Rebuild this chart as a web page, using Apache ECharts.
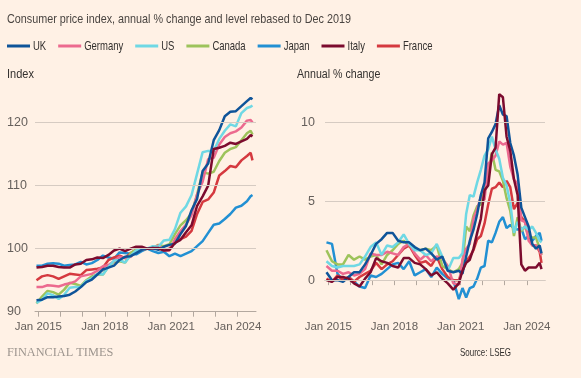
<!DOCTYPE html>
<html><head><meta charset="utf-8">
<script src="https://cdn.jsdelivr.net/npm/echarts@6/dist/echarts.min.js"></script>
<style>html,body{margin:0;padding:0;background:#fff1e5}#c{width:581px;height:378px}</style>
</head><body><div id="c"></div><script>
// ---------- DATA ----------
const countries = ['UK','Germany','US','Canada','Japan','Italy','France'];
const drawOrder = ['Japan','France','Canada','Germany','US','UK','Italy'];
const colors = {UK:'#0f5499',Germany:'#ec6a8f',US:'#6fd8e4',Canada:'#9dc35b',Japan:'#2290d3',Italy:'#7c0b2e',France:'#d5393f'};

// Left panel: CPI level, Dec 2019 = 100
const indexDates = ['2014-12',
 '2015-03','2015-06','2015-09','2015-12','2016-03','2016-06','2016-09','2016-12',
 '2017-03','2017-06','2017-09','2017-12','2018-03','2018-06','2018-09','2018-12',
 '2019-03','2019-06','2019-09','2019-12','2020-03','2020-06','2020-09','2020-12',
 '2021-03','2021-06','2021-09','2021-12','2022-03','2022-06','2022-09','2022-12',
 '2023-03','2023-06','2023-09','2023-12','2024-03','2024-06','2024-08','2024-09'];
const indexUK = [91.8, 91.9,92.3,92.3,92.4, 92.5,92.7,93.2,93.9, 94.7,95.1,95.9,96.7, 97.0,97.3,98.2,98.7, 98.8,99.3,99.8,100, 100.1,99.8,100.3,100.6, 100.8,102.3,103.6,106.1, 107.9,112.3,113.5,117.2, 118.8,121.0,121.7,121.8, 122.6,123.4, 123.9,123.7];
const indexGermany = [93.9, 93.9,94.2,94.1,94.0, 94.3,94.5,94.8,95.6, 95.8,96.0,96.5,97.2, 97.4,98.0,98.7,98.5, 98.7,99.6,99.9,100, 100.1,100.5,99.7,99.7, 101.5,102.8,103.8,105.3, 108.6,110.6,114.2,114.4, 116.5,117.7,118.3,118.6, 119.2,120.3, 120.4,120.0];
const indexUS = [91.4, 91.9,92.9,92.6,92.0, 92.7,93.8,93.9,93.9, 94.9,95.3,96.0,95.9, 97.1,98.1,98.2,97.8, 98.9,99.7,99.9,100, 100.4,100.3,101.3,101.4, 103.1,105.7,106.7,108.5, 111.9,115.3,115.5,115.5, 117.4,118.7,119.7,119.4, 121.5,122.3, 122.5,122.7];
const indexCanada = [91.3, 92.4,93.3,93.1,92.7, 93.5,94.6,94.4,94.1, 95.0,95.6,95.9,95.9, 97.2,97.9,98.0,97.8, 99.3,99.9,99.9,100, 100.1,100.6,100.4,100.7, 102.3,103.7,104.5,105.6, 108.6,112.1,111.9,112.2, 113.9,115.2,115.8,116.1, 117.2,118.3, 118.7,118.1];
const indexJapan = [97.3, 97.3,97.6,97.7,97.6, 97.3,97.4,97.5,97.9, 97.5,97.7,98.2,98.9, 98.6,98.4,99.4,99.3, 99.2,99.1,99.6,100, 99.6,99.3,99.5,98.8, 99.2,98.8,99.2,99.6, 100.4,101.2,102.5,103.8, 104.0,104.7,105.5,106.5, 106.8,107.5, 108.3,108.5];
const indexItaly = [97.0, 97.1,97.3,97.3,97.1, 97.0,97.0,97.5,97.6, 98.2,98.3,98.6,98.5, 99.0,99.7,100.0,99.6, 100.0,100.3,100.3,100, 100.1,100.1,99.7,99.8, 100.9,101.4,102.6,103.7, 106.8,108.3,110.0,115.8, 116.0,116.3,116.8,116.6, 117.0,117.4, 118.0,117.8];
const indexFrance = [95.0, 95.6,95.8,95.6,95.2, 95.6,96.0,95.9,95.8, 96.6,96.7,96.8,97.0, 98.2,98.6,98.9,98.5, 99.3,99.8,99.8,100, 100.0,100.0,99.8,100.0, 101.0,101.5,101.9,102.8, 105.5,107.4,107.8,108.9, 111.6,112.3,113.1,112.9, 114.0,114.7, 115.2,114.0];

// Right panel: annual % change
const changeDates = ['2014-12',
 '2015-03','2015-06','2015-09','2015-12','2016-03','2016-06','2016-09','2016-12',
 '2017-03','2017-06','2017-09','2017-12','2018-03','2018-06','2018-09','2018-12',
 '2019-03','2019-06','2019-09','2019-12','2020-03','2020-06','2020-09','2020-12',
 '2021-02','2021-04','2021-06','2021-08','2021-10','2021-12',
 '2022-02','2022-04','2022-06','2022-08','2022-10','2022-12',
 '2023-02','2023-04','2023-06','2023-08','2023-10','2023-12',
 '2024-02','2024-04','2024-06','2024-08','2024-09'];
const changeUK = [0.5, 0.0,0.0,-0.1,0.2, 0.5,0.5,1.0,1.6, 2.3,2.6,3.0,3.0, 2.5,2.4,2.4,2.1, 1.9,2.0,1.7,1.3, 1.5,0.6,0.5,0.6, 0.4,1.5,2.5,3.2,4.2,5.4, 6.2,9.0,9.4,9.9,11.1,10.5, 10.4,8.7,7.9,6.7,4.6,4.0, 3.4,2.3,2.0,2.2,1.7];
const changeGermany = [0.9, 0.6,0.6,0.4,0.5, 0.3,0.4,0.7,1.7, 1.6,1.6,1.8,1.7, 1.6,2.1,2.3,1.7, 1.3,1.6,1.2,1.5, 1.4,0.9,-0.2,-0.3, 1.3,2.0,2.3,3.9,4.5,5.3, 5.1,7.4,7.6,7.9,8.8,8.6, 8.7,7.2,6.4,6.1,3.8,3.7, 2.5,2.2,2.2,1.9,1.6];
const changeUS = [1.2, 0.9,0.8,0.9,0.9, 0.9,1.0,1.5,2.1, 2.4,1.6,2.2,2.1, 2.4,2.9,2.3,1.9, 1.9,1.6,1.7,2.3, 1.5,0.6,1.4,1.4, 1.7,4.2,5.4,5.3,6.2,7.0, 7.9,8.3,9.1,8.3,7.7,6.5, 6.0,4.9,3.0,3.7,3.2,3.4, 3.2,3.4,3.0,2.5,2.4];
const changeCanada = [1.9, 1.2,1.0,1.0,1.6, 1.3,1.5,1.3,1.5, 1.6,1.0,1.6,1.9, 2.3,2.5,2.2,2.0, 1.9,2.0,1.9,2.2, 0.9,0.7,0.5,0.7, 1.1,3.4,3.1,4.1,4.7,4.8, 5.7,6.8,8.1,7.0,6.9,6.3, 5.2,4.4,2.8,4.0,3.1,3.4, 2.8,2.7,2.7,2.0,1.6];
const changeJapan = [2.4, 2.3,0.4,0.0,0.2, -0.1,-0.4,-0.5,0.3, 0.2,0.4,0.7,1.0, 1.1,0.7,1.2,0.3, 0.5,0.7,0.2,0.8, 0.4,0.1,0.0,-1.2, -0.5,-1.1,-0.5,-0.4,0.1,0.8, 0.9,2.5,2.4,3.0,3.7,4.0, 3.3,3.5,3.3,3.2,3.3,2.6, 2.8,2.5,2.8,3.0,2.5];
const changeItaly = [0.0, -0.1,0.2,0.2,0.1, -0.2,-0.4,0.1,0.5, 1.4,1.2,1.1,0.9, 0.8,1.4,1.4,1.1, 1.0,0.7,0.3,0.5, 0.1,-0.2,-0.6,-0.2, 0.6,1.1,1.3,2.0,3.0,3.9, 5.7,6.0,8.0,8.4,11.8,11.6, 9.1,8.2,6.4,5.4,1.0,0.6, 0.8,0.8,0.8,1.1,0.7];
const changeFrance = [0.1, -0.1,0.3,0.0,0.2, -0.1,0.2,0.4,0.6, 1.1,0.7,1.0,1.2, 1.6,2.0,2.2,1.6, 1.1,1.2,0.9,1.5, 0.7,0.2,0.0,0.0, 0.6,1.2,1.5,1.9,2.6,2.8, 3.6,4.8,5.8,5.9,6.2,5.9, 6.3,5.9,4.5,4.9,4.0,3.7, 3.0,2.2,2.2,1.8,1.1];

const tickYears = [2015,2016,2017,2018,2019,2020,2021,2022,2023,2024];
const labelYears = [2015,2018,2021,2024];
const indexTicks = [90,100,110,120];
const changeTicks = [0,5,10];

// ---------- BUILD ----------
const indexData = {UK:indexUK,Germany:indexGermany,US:indexUS,Canada:indexCanada,Japan:indexJapan,Italy:indexItaly,France:indexFrance};
const changeData = {UK:changeUK,Germany:changeGermany,US:changeUS,Canada:changeCanada,Japan:changeJapan,Italy:changeItaly,France:changeFrance};
function toMonth(d){const p=d.split('-');return (+p[0]-2015)*12+(+p[1]-1);}
function pairs(dates,vals){return dates.map((d,i)=>[toMonth(d),vals[i]]);}

const sansName = "'Liberation Sans', Arial, sans-serif";
const gridColor = '#d6cbc2';
const axisColor = '#b3a89f';
const labelColor = '#66605c';
const textColor = '#33302e';

const tickMonths = tickYears.map(y=>(y-2015)*12);
const labelMonths = labelYears.map(y=>(y-2015)*12);

const measureCtx = document.createElement('canvas').getContext('2d');
function textW(t, size){measureCtx.font = size+'px '+sansName; return measureCtx.measureText(t).width;}

// condensed text helper (the FT face is narrow)
function ctext(t,x,y,size,sx,color){
  return {type:'text',x:x,y:y,scaleX:sx,silent:true,
    style:{text:t,x:0,y:0,font:size+'px '+sansName,fill:color,verticalAlign:'middle',align:'left'}};
}

function xAxis(gi){
  return {type:'value',gridIndex:gi,min:-1.8,max:117.9,
    axisLine:{show:true,lineStyle:{color:axisColor,width:1}},
    axisTick:{show:true,length:5,customValues:tickMonths,lineStyle:{color:axisColor}},
    axisLabel:{show:true,customValues:labelMonths,margin:9,color:labelColor,fontFamily:sansName,fontSize:11.5,
      formatter:v=>'Jan '+(2015+Math.round(v/12))},
    splitLine:{show:false}};
}
function gridSeries(ai,ticks){
  return {type:'line',xAxisIndex:ai,yAxisIndex:ai,data:[],silent:true,z:1,
    markLine:{silent:true,symbol:'none',label:{show:false},animation:false,
      lineStyle:{type:'solid',color:gridColor,width:1},
      data:ticks.map(v=>({yAxis:v}))}};
}

const series=[gridSeries(0,indexTicks.slice(1)),gridSeries(1,changeTicks)];
drawOrder.forEach(c=>{
  series.push({name:c,type:'line',xAxisIndex:0,yAxisIndex:0,data:pairs(indexDates,indexData[c]),
    showSymbol:false,symbol:'none',z:3,color:colors[c],lineStyle:{width:2.5,color:colors[c]},emphasis:{disabled:true}});
  series.push({name:c,type:'line',xAxisIndex:1,yAxisIndex:1,data:pairs(changeDates,changeData[c]),
    showSymbol:false,symbol:'none',z:3,color:colors[c],lineStyle:{width:2.5,color:colors[c]},emphasis:{disabled:true}});
});

// legend built from the country list (line swatch + condensed label)
const legendEls=[];
const LSX=0.73, LSIZE=13;
let lx=7;
countries.forEach(c=>{
  legendEls.push({type:'rect',x:lx,y:44.5,shape:{x:0,y:0,width:23,height:3},style:{fill:colors[c]},silent:true});
  legendEls.push(ctext(c,lx+26,46,LSIZE,LSX,textColor));
  lx += 26 + textW(c,LSIZE)*LSX + 12;
});

const chart = echarts.init(document.getElementById('c'),null,{renderer:'canvas'});
chart.setOption({
  backgroundColor:'#fff1e5',
  animation:false,
  graphic:[
    ctext('Consumer price index, annual % change and level rebased to Dec 2019',7,19,13.5,0.8,'#4a4541'),
    ctext('Index',7,75,12.5,0.88,textColor),
    ctext('Annual % change',297,75,12.5,0.85,textColor),
    {type:'text',x:7,y:353,silent:true,style:{text:'FINANCIAL TIMES',x:0,y:0,font:"12.3px 'Liberation Serif','DejaVu Serif',serif",fill:'#9d958e',verticalAlign:'middle'}},
    ctext('Source: LSEG',460,353,10.5,0.76,textColor)
  ].concat(legendEls),
  grid:[{left:35,top:91,width:221,height:220.7},{left:325,top:91,width:220,height:220.7}],
  xAxis:[xAxis(0),xAxis(1)],
  yAxis:[
    {type:'value',gridIndex:0,min:90,max:125,
      axisLine:{show:false},axisTick:{show:false},
      axisLabel:{align:'left',margin:28,color:labelColor,fontFamily:sansName,fontSize:12.5,customValues:indexTicks},
      splitLine:{show:false}},
    {type:'value',gridIndex:1,min:-2,max:12,
      axisLine:{show:false},axisTick:{show:false},
      axisLabel:{align:'right',margin:10,color:labelColor,fontFamily:sansName,fontSize:12.5,customValues:changeTicks},
      splitLine:{show:false}}
  ],
  series:series
});
</script></body></html>
